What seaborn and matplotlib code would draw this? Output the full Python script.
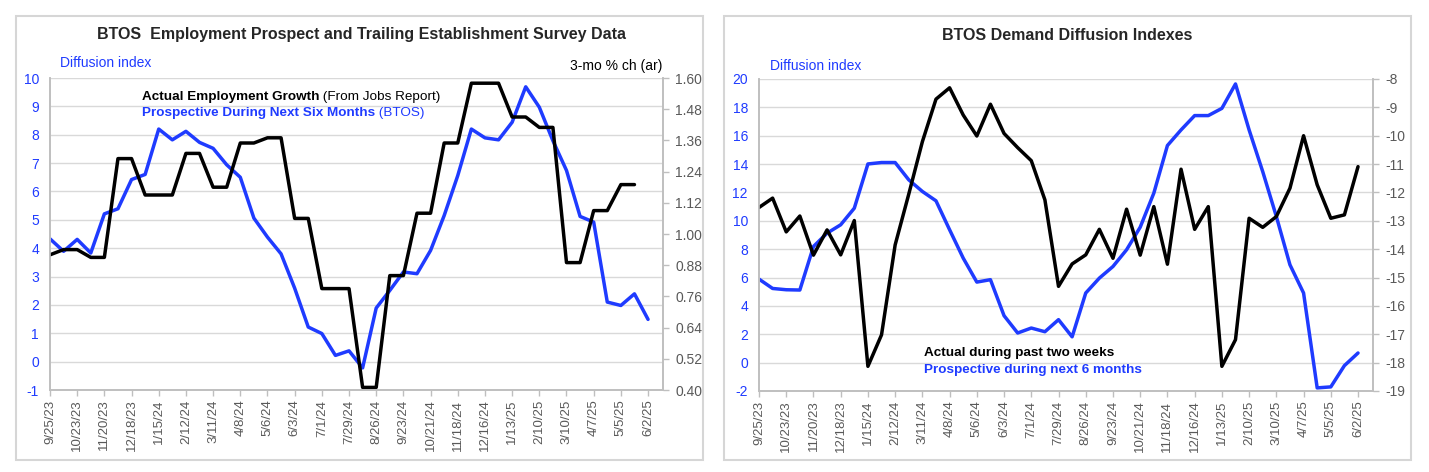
import matplotlib
matplotlib.use("Agg")
import matplotlib.pyplot as plt
from matplotlib.patches import Rectangle
import seaborn as sns
import numpy as np

# biweekly survey dates, every second one labelled
tick_labels = ["9/25/23", "10/23/23", "11/20/23", "12/18/23", "1/15/24", "2/12/24",
               "3/11/24", "4/8/24", "5/6/24", "6/3/24", "7/1/24", "7/29/24", "8/26/24",
               "9/23/24", "10/21/24", "11/18/24", "12/16/24", "1/13/25", "2/10/25",
               "3/10/25", "4/7/25", "5/5/25", "6/2/25"]

# left chart: employment
emp_prospect = [4.33, 3.89, 4.31, 3.83, 5.21, 5.39, 6.42, 6.60, 8.20, 7.82, 8.12, 7.73,
                7.52, 6.94, 6.50, 5.06, 4.39, 3.80, 2.59, 1.22, 0.99, 0.22, 0.38, -0.22,
                1.89, 2.51, 3.16, 3.10, 3.92, 5.15, 6.56, 8.20, 7.89, 7.82, 8.44, 9.69,
                8.97, 7.79, 6.74, 5.12, 4.92, 2.10, 1.98, 2.39, 1.49]
emp_actual = [0.92, 0.94, 0.94, 0.91, 0.91, 1.29, 1.29, 1.15, 1.15, 1.15, 1.31, 1.31,
              1.18, 1.18, 1.35, 1.35, 1.37, 1.37, 1.06, 1.06, 0.79, 0.79, 0.79, 0.41,
              0.41, 0.84, 0.84, 1.08, 1.08, 1.35, 1.35, 1.58, 1.58, 1.58, 1.45, 1.45,
              1.41, 1.41, 0.89, 0.89, 1.09, 1.09, 1.19, 1.19]

# right chart: demand
dem_prospect = [5.89, 5.23, 5.14, 5.12, 8.19, 9.13, 9.72, 10.89, 14.01, 14.11, 14.11,
                12.89, 12.07, 11.41, 9.37, 7.37, 5.68, 5.85, 3.31, 2.09, 2.44, 2.18, 3.03,
                1.82, 4.91, 5.96, 6.78, 7.96, 9.55, 11.95, 15.31, 16.41, 17.42, 17.42,
                17.93, 19.65, 16.41, 13.47, 10.31, 6.90, 4.91, -1.78, -1.71, -0.21, 0.68]
dem_actual = [-12.53, -12.20, -13.39, -12.83, -14.21, -13.32, -14.20, -12.99, -18.13,
              -17.02, -13.85, -12.06, -10.21, -8.71, -8.31, -9.27, -10.01, -8.89, -9.92,
              -10.42, -10.88, -12.26, -15.31, -14.52, -14.20, -13.30, -14.32, -12.59,
              -14.21, -12.50, -14.53, -11.18, -13.30, -12.50, -18.13, -17.19, -12.91,
              -13.23, -12.85, -11.85, -10.00, -11.73, -12.91, -12.79, -11.09]

BLUE = "#1f3bff"
GREY = "#595959"
GRID = "#d9d9d9"

sns.set_theme(style="white", rc={"axes.unicode_minus": False})
plt.rcParams["font.family"] = ["Liberation Sans", "DejaVu Sans"]

fig = plt.figure(figsize=(14.29, 4.72), dpi=100)

# panel frames
for x0 in (16 / 1429, 724 / 1429):
    fig.patches.append(Rectangle((x0, 12 / 472), 687 / 1429, 444 / 472, transform=fig.transFigure,
                                 fill=False, edgecolor="#d6d6d6", lw=1.5))

ax1 = fig.add_axes([50 / 1429, 82 / 472, 613 / 1429, 312 / 472])
ax2 = fig.add_axes([759 / 1429, 81 / 472, 614 / 1429, 312 / 472])


def style_axes(ax, axr, ylim, yticks, rlim, rticks, rfmt):
    ax.set_xlim(0, 45.1)
    ax.set_ylim(*ylim)
    ax.set_yticks(yticks)
    ax.set_xticks(np.arange(0, 45, 2))
    ax.set_xticklabels(tick_labels, rotation=90)
    ax.grid(axis="y", color=GRID, lw=1)
    ax.set_axisbelow(True)
    ax.tick_params(axis="y", length=0, pad=8, labelsize=10, labelcolor=BLUE)
    ax.tick_params(axis="x", bottom=True, length=4, width=1, color="#bfbfbf", pad=3,
                   labelsize=9.5, labelcolor=GREY)
    axr.set_ylim(*rlim)
    axr.set_yticks(rticks)
    axr.set_yticklabels([rfmt.format(v) for v in rticks])
    axr.tick_params(axis="y", right=True, length=4, width=1, color="#bfbfbf", pad=5,
                    labelsize=10, labelcolor=GREY)
    for a in (ax, axr):
        a.set_xlabel("")
        a.set_ylabel("")
        a.spines["top"].set_visible(False)
        for s in ("left", "right", "bottom"):
            a.spines[s].set_color("#bfbfbf")
            a.spines[s].set_linewidth(1.2)


# ---- left panel
ax1r = ax1.twinx()
sns.lineplot(x=np.arange(len(emp_prospect)), y=emp_prospect, ax=ax1, color=BLUE, lw=2.5)
sns.lineplot(x=np.arange(len(emp_actual)), y=emp_actual, ax=ax1r, color="black", lw=2.5)
style_axes(ax1, ax1r, (-1, 10), range(-1, 11), (0.40, 1.60),
           [0.40, 0.52, 0.64, 0.76, 0.88, 1.00, 1.12, 1.24, 1.36, 1.48, 1.60], "{:.2f}")

t = ax1.text(0.150, 0.940, "Actual Employment Growth", transform=ax1.transAxes,
             fontsize=9.7, fontweight="bold", color="black", va="center")
ax1.annotate(" (From Jobs Report)", xy=(1, 0), xycoords=t, fontsize=9.7, color="black",
             va="bottom")
t = ax1.text(0.150, 0.888, "Prospective During Next Six Months", transform=ax1.transAxes,
             fontsize=9.7, fontweight="bold", color=BLUE, va="center")
ax1.annotate(" (BTOS)", xy=(1, 0), xycoords=t, fontsize=9.7, color=BLUE, va="bottom")

fig.text(362 / 1429, 1 - 35 / 472, "BTOS  Employment Prospect and Trailing Establishment Survey Data",
         ha="center", va="center", fontsize=11.5, fontweight="bold")
fig.text(60 / 1429, 1 - 63 / 472, "Diffusion index", color=BLUE, fontsize=10, va="center")
fig.text(662 / 1429, 1 - 66 / 472, "3-mo % ch (ar)", color="black", fontsize=10,
         va="center", ha="right")

# ---- right panel
ax2r = ax2.twinx()
sns.lineplot(x=np.arange(len(dem_prospect)), y=dem_prospect, ax=ax2, color=BLUE, lw=2.5)
sns.lineplot(x=np.arange(len(dem_actual)), y=dem_actual, ax=ax2r, color="black", lw=2.5)
style_axes(ax2, ax2r, (-2, 20), range(-2, 21, 2), (-19, -8), range(-19, -7), "{:d}")

ax2.text(0.269, 0.122, "Actual during past two weeks", transform=ax2.transAxes,
         fontsize=9.7, fontweight="bold", color="black", va="center")
ax2.text(0.269, 0.067, "Prospective during next 6 months", transform=ax2.transAxes,
         fontsize=9.7, fontweight="bold", color=BLUE, va="center")

fig.text(1067 / 1429, 1 - 35 / 472, "BTOS Demand Diffusion Indexes",
         ha="center", va="center", fontsize=11.5, fontweight="bold")
fig.text(770 / 1429, 1 - 66 / 472, "Diffusion index", color=BLUE, fontsize=10, va="center")

fig.savefig("out.png", dpi=100)
